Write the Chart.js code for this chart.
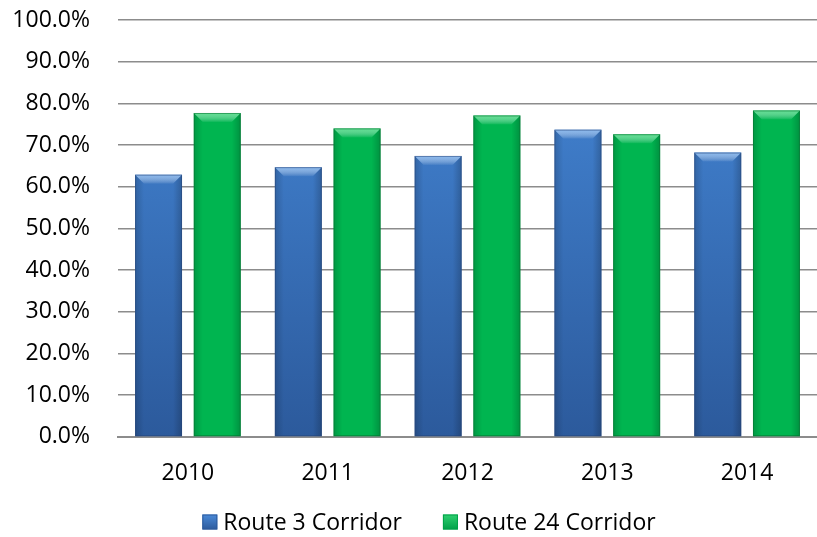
<!DOCTYPE html>
<html lang="en">
<head>
  <meta charset="UTF-8"/>
  <title>Route Corridors by Year</title>
  <script src="https://cdn.jsdelivr.net/npm/chart.js"></script>
  <style>
    html, body { margin: 0; padding: 0; background: #fff; }
    #wrap { width: 817px; height: 537px; position: relative; }
  </style>
</head>
<body>
  <div id="wrap"><canvas id="corridorChart"></canvas></div>
  <script>
    const years = ['2010', '2011', '2012', '2013', '2014'];
    const route3 = [62.9, 64.7, 67.4, 73.7, 68.2];
    const route24 = [77.7, 74.0, 77.1, 72.6, 78.3];
    const seriesNames = ['Route 3 Corridor', 'Route 24 Corridor'];

    const FONT = "'Open Sans', sans-serif";
    const FONT_SIZE = 23;

    // vertical gradient across the plot area, light at the top
    function areaGradient(top, bottom) {
      return ctx => {
        const area = ctx.chart.chartArea;
        if (!area) return bottom;
        const g = ctx.chart.ctx.createLinearGradient(0, area.top, 0, area.bottom);
        g.addColorStop(0, top);
        g.addColorStop(1, bottom);
        return g;
      };
    }

    // bevelled top edge and shaded sides on each bar
    const bevel = {
      id: 'bevel',
      afterDatasetsDraw(chart) {
        const c = chart.ctx;
        chart.data.datasets.forEach((ds, i) => {
          const meta = chart.getDatasetMeta(i);
          meta.data.forEach(bar => {
            const { x, y, base, width } = bar.getProps(['x', 'y', 'base', 'width'], true);
            const l = x - width / 2, r = x + width / 2, b = 9;
            c.save();
            let g = c.createLinearGradient(0, y, 0, y + b);
            g.addColorStop(0, ds.bevelTop);
            g.addColorStop(1, 'rgba(255,255,255,0.05)');
            c.beginPath();
            c.moveTo(l, y); c.lineTo(r, y); c.lineTo(r - b, y + b); c.lineTo(l + b, y + b); c.closePath();
            c.fillStyle = g;
            c.fill();
            g = c.createLinearGradient(l, 0, l + b, 0);
            g.addColorStop(0, 'rgba(0,0,0,0.16)');
            g.addColorStop(1, 'rgba(0,0,0,0)');
            c.beginPath();
            c.moveTo(l, y); c.lineTo(l + b, y + b); c.lineTo(l + b, base); c.lineTo(l, base); c.closePath();
            c.fillStyle = g; c.fill();
            g = c.createLinearGradient(r, 0, r - b, 0);
            g.addColorStop(0, 'rgba(0,0,0,0.2)');
            g.addColorStop(1, 'rgba(0,0,0,0)');
            c.beginPath();
            c.moveTo(r, y); c.lineTo(r - b, y + b); c.lineTo(r - b, base); c.lineTo(r, base); c.closePath();
            c.fillStyle = g; c.fill();
            c.strokeStyle = ds.edge;
            c.lineWidth = 1;
            c.strokeRect(l + 0.5, y + 0.5, width - 1, base - y - 1);
            c.restore();
          });
        });
      }
    };

    // legend row under the axis labels
    const bottomLegend = {
      id: 'bottomLegend',
      afterDraw(chart) {
        const c = chart.ctx;
        const swatches = [['#4a8ad8', '#2c5a9c'], ['#2fd070', '#00a048']];
        const box = 15, gap = 6, spacing = 41, cy = 522, center = 429;
        c.save();
        c.font = FONT_SIZE + 'px ' + FONT;
        c.textBaseline = 'middle';
        const widths = seriesNames.map(n => c.measureText(n).width);
        const total = widths.reduce((a, w) => a + box + gap + w, 0) + spacing * (seriesNames.length - 1);
        let x = center - total / 2;
        seriesNames.forEach((name, i) => {
          const g = c.createLinearGradient(0, cy - box / 2, 0, cy + box / 2);
          g.addColorStop(0, swatches[i][0]);
          g.addColorStop(1, swatches[i][1]);
          c.fillStyle = g;
          c.fillRect(x, cy - box / 2, box, box);
          c.strokeStyle = swatches[i][1];
          c.lineWidth = 1;
          c.strokeRect(x + 0.5, cy - box / 2 + 0.5, box - 1, box - 1);
          c.fillStyle = '#000';
          c.fillText(name, x + box + gap, cy + 1);
          x += box + gap + widths[i] + spacing;
        });
        c.restore();
      }
    };

    new Chart(document.getElementById('corridorChart'), {
      type: 'bar',
      data: {
        labels: years,
        datasets: [
          {
            label: seriesNames[0],
            data: route3,
            backgroundColor: areaGradient('#4588d8', '#2c5a9c'),
            bevelTop: 'rgba(150,195,245,0.85)',
            edge: 'rgba(40,70,120,0.55)',
            categoryPercentage: 0.84,
            barPercentage: 0.8
          },
          {
            label: seriesNames[1],
            data: route24,
            backgroundColor: '#00b550',
            bevelTop: 'rgba(110,230,155,0.85)',
            edge: 'rgba(10,110,50,0.55)',
            categoryPercentage: 0.84,
            barPercentage: 0.8
          }
        ]
      },
      options: {
        responsive: true,
        maintainAspectRatio: false,
        animation: false,
        layout: { padding: { top: 20, right: 0, bottom: 26.5, left: 0 } },
        plugins: {
          legend: { display: false },
          tooltip: { enabled: false }
        },
        scales: {
          x: {
            grid: { display: false, drawTicks: false },
            border: { display: true, color: '#8c8c8c', width: 2 },
            ticks: { font: { family: FONT, size: FONT_SIZE }, color: '#000', padding: 23 }
          },
          y: {
            min: 0,
            max: 100,
            afterFit: s => { s.width = 118; s.paddingTop = 0; s.paddingBottom = 0; },
            grid: { color: '#8c8c8c', lineWidth: 1.5, drawTicks: false },
            border: { display: false },
            ticks: {
              stepSize: 10,
              padding: 28,
              font: { family: FONT, size: FONT_SIZE },
              color: '#000',
              callback: v => v.toFixed(1) + '%'
            }
          }
        }
      },
      plugins: [bevel, bottomLegend]
    });
  </script>
</body>
</html>
